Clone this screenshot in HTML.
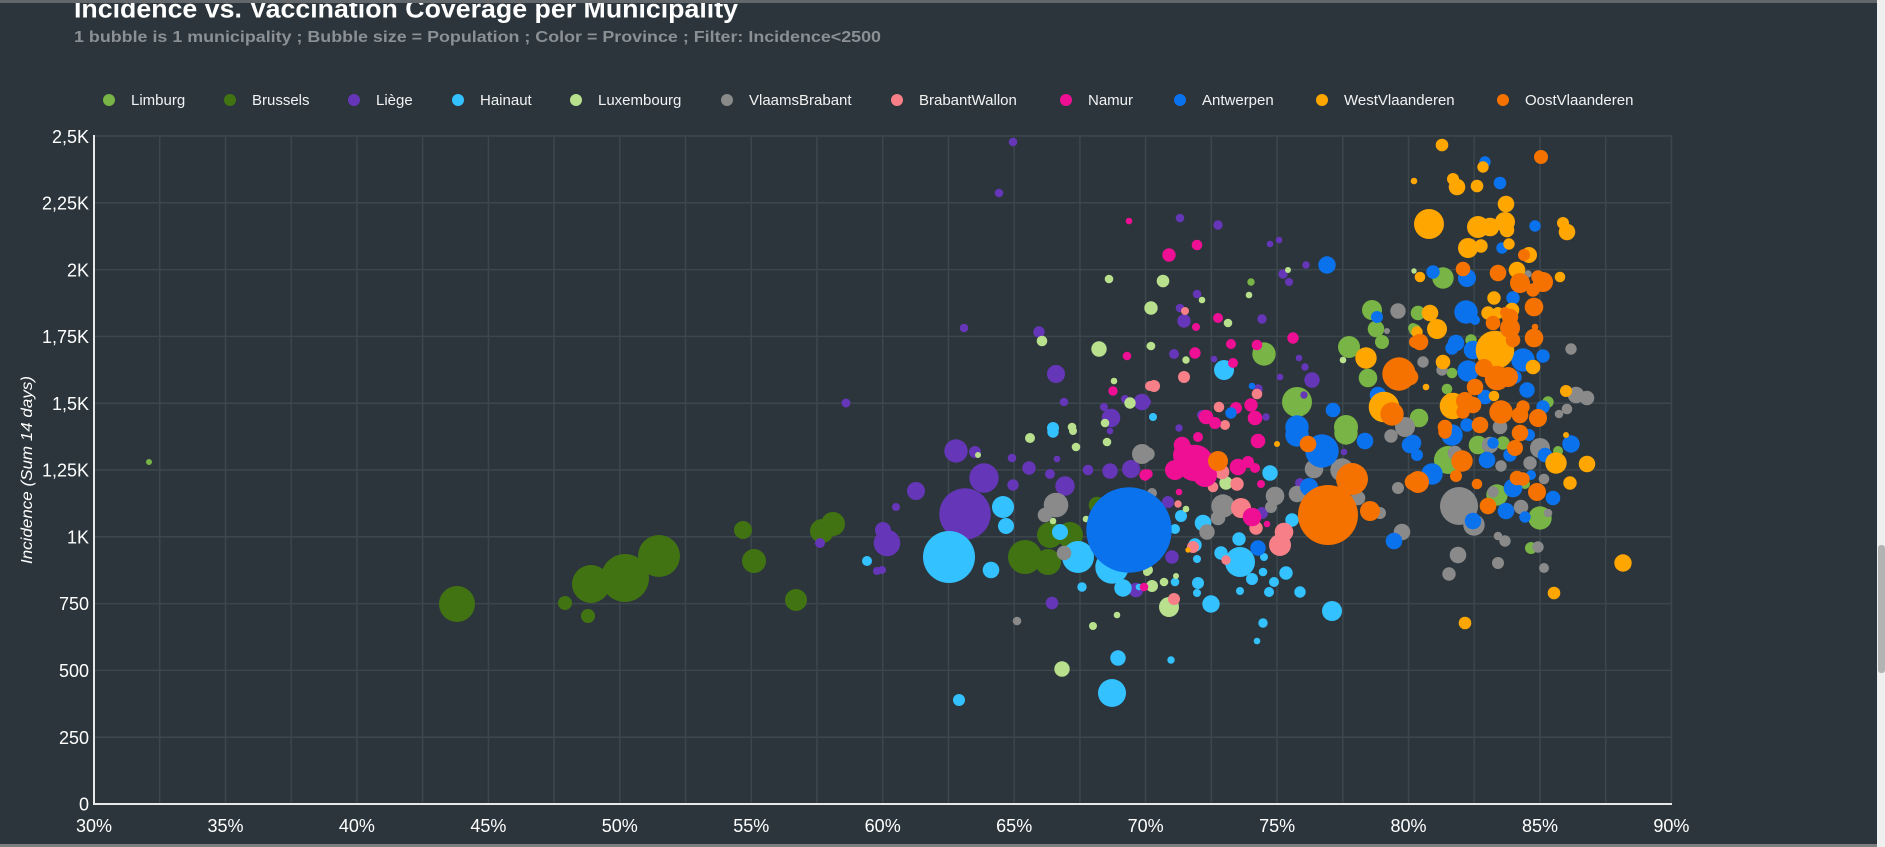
<!DOCTYPE html>
<html><head><meta charset="utf-8"><style>
html,body{margin:0;padding:0;background:#2b353b;width:1885px;height:847px;overflow:hidden}
svg{display:block;font-family:"Liberation Sans",Arial,sans-serif}
</style></head><body>
<svg width="1885" height="847" viewBox="0 0 1885 847" xmlns="http://www.w3.org/2000/svg">
<rect x="0" y="0" width="1885" height="847" fill="#2b353b"/>

<text x="74" y="17.5" font-size="26" font-weight="700" fill="#ffffff" textLength="664" lengthAdjust="spacingAndGlyphs">Incidence vs. Vaccination Coverage per Municipality</text>
<text x="74" y="42" font-size="16" font-weight="700" fill="#8b9095" textLength="807" lengthAdjust="spacingAndGlyphs">1 bubble is 1 municipality ; Bubble size = Population ;  Color = Province ;  Filter: Incidence&lt;2500</text>

<rect x="0" y="0" width="1877" height="3" fill="#62676b"/>
<rect x="0" y="844" width="1885" height="3" fill="#7a7e81"/>
<rect x="1877" y="0" width="8" height="847" fill="#efefef"/>
<rect x="1878" y="545" width="7" height="128" rx="3" fill="#b3b3b3"/>

<g font-size="15" fill="#f2f2f2">
<circle cx="109" cy="100" r="6" fill="#79b446"/><text x="131" y="105">Limburg</text>
<circle cx="230" cy="100" r="6" fill="#417312"/><text x="252" y="105">Brussels</text>
<circle cx="354" cy="100" r="6" fill="#6536b8"/><text x="376" y="105">Liège</text>
<circle cx="458" cy="100" r="6" fill="#33c2ff"/><text x="480" y="105">Hainaut</text>
<circle cx="576" cy="100" r="6" fill="#b9e08d"/><text x="598" y="105">Luxembourg</text>
<circle cx="727" cy="100" r="6" fill="#8a8a8a"/><text x="749" y="105">VlaamsBrabant</text>
<circle cx="897" cy="100" r="6" fill="#f78088"/><text x="919" y="105">BrabantWallon</text>
<circle cx="1066" cy="100" r="6" fill="#ee0f94"/><text x="1088" y="105">Namur</text>
<circle cx="1180" cy="100" r="6" fill="#0b72ee"/><text x="1202" y="105">Antwerpen</text>
<circle cx="1322" cy="100" r="6" fill="#ffa600"/><text x="1344" y="105">WestVlaanderen</text>
<circle cx="1503" cy="100" r="6" fill="#f57200"/><text x="1525" y="105">OostVlaanderen</text>
</g>

<!-- grid -->
<g stroke="#3c464d" stroke-width="1.5">
<line x1="94" y1="136" x2="1672" y2="136"/>
<line x1="94" y1="202.8" x2="1672" y2="202.8"/>
<line x1="94" y1="269.6" x2="1672" y2="269.6"/>
<line x1="94" y1="336.4" x2="1672" y2="336.4"/>
<line x1="94" y1="403.2" x2="1672" y2="403.2"/>
<line x1="94" y1="470" x2="1672" y2="470"/>
<line x1="94" y1="536.8" x2="1672" y2="536.8"/>
<line x1="94" y1="603.6" x2="1672" y2="603.6"/>
<line x1="94" y1="670.4" x2="1672" y2="670.4"/>
<line x1="94" y1="737.2" x2="1672" y2="737.2"/>
<line x1="159.7" y1="136" x2="159.7" y2="804"/>
<line x1="225.5" y1="136" x2="225.5" y2="804"/>
<line x1="291.2" y1="136" x2="291.2" y2="804"/>
<line x1="356.9" y1="136" x2="356.9" y2="804"/>
<line x1="422.6" y1="136" x2="422.6" y2="804"/>
<line x1="488.4" y1="136" x2="488.4" y2="804"/>
<line x1="554.1" y1="136" x2="554.1" y2="804"/>
<line x1="619.8" y1="136" x2="619.8" y2="804"/>
<line x1="685.5" y1="136" x2="685.5" y2="804"/>
<line x1="751.3" y1="136" x2="751.3" y2="804"/>
<line x1="817" y1="136" x2="817" y2="804"/>
<line x1="882.7" y1="136" x2="882.7" y2="804"/>
<line x1="948.4" y1="136" x2="948.4" y2="804"/>
<line x1="1014.2" y1="136" x2="1014.2" y2="804"/>
<line x1="1079.9" y1="136" x2="1079.9" y2="804"/>
<line x1="1145.6" y1="136" x2="1145.6" y2="804"/>
<line x1="1211.3" y1="136" x2="1211.3" y2="804"/>
<line x1="1277.1" y1="136" x2="1277.1" y2="804"/>
<line x1="1342.8" y1="136" x2="1342.8" y2="804"/>
<line x1="1408.5" y1="136" x2="1408.5" y2="804"/>
<line x1="1474.2" y1="136" x2="1474.2" y2="804"/>
<line x1="1540" y1="136" x2="1540" y2="804"/>
<line x1="1605.7" y1="136" x2="1605.7" y2="804"/>
<line x1="1671.4" y1="136" x2="1671.4" y2="804"/>
</g>

<!-- y labels -->
<g font-size="18" fill="#ffffff" text-anchor="end">
<text x="89" y="143">2,5K</text>
<text x="89" y="209.5">2,25K</text>
<text x="89" y="276.5">2K</text>
<text x="89" y="343">1,75K</text>
<text x="89" y="410">1,5K</text>
<text x="89" y="476.5">1,25K</text>
<text x="89" y="543.5">1K</text>
<text x="89" y="610">750</text>
<text x="89" y="677">500</text>
<text x="89" y="744">250</text>
<text x="89" y="810.5">0</text>
</g>
<g font-size="18" fill="#ffffff" text-anchor="middle">
<text x="94" y="832">30%</text>
<text x="225.5" y="832">35%</text>
<text x="356.9" y="832">40%</text>
<text x="488.4" y="832">45%</text>
<text x="619.8" y="832">50%</text>
<text x="751.3" y="832">55%</text>
<text x="882.7" y="832">60%</text>
<text x="1014.2" y="832">65%</text>
<text x="1145.6" y="832">70%</text>
<text x="1277.1" y="832">75%</text>
<text x="1408.5" y="832">80%</text>
<text x="1540" y="832">85%</text>
<text x="1671.4" y="832">90%</text>
</g>
<text transform="translate(32,470) rotate(-90)" font-size="16" font-style="italic" fill="#ffffff" text-anchor="middle" textLength="188" lengthAdjust="spacingAndGlyphs">Incidence (Sum 14 days)</text>

<!-- Limburg -->
<g fill="#79b446">
<circle cx="149" cy="462" r="3"/>
<circle cx="1251" cy="282" r="3.7"/><circle cx="1372" cy="310" r="10"/><circle cx="1376" cy="329" r="8.3"/><circle cx="1382" cy="342" r="7"/><circle cx="1415" cy="330" r="6"/><circle cx="1264" cy="354" r="11.7"/><circle cx="1349" cy="347" r="11"/><circle cx="1368" cy="378" r="9.3"/><circle cx="1297" cy="402" r="15"/><circle cx="1346" cy="427" r="12"/>
<circle cx="1346" cy="433" r="11.7"/>
<circle cx="1443" cy="278" r="10.7"/><circle cx="1418" cy="313" r="7.3"/><circle cx="1413" cy="328" r="5"/><circle cx="1471" cy="340" r="5.7"/><circle cx="1452" cy="373" r="5.3"/><circle cx="1447" cy="389" r="5.3"/><circle cx="1548" cy="402" r="5.7"/><circle cx="1419" cy="418" r="9.3"/>
<circle cx="1448" cy="460" r="14"/><circle cx="1478" cy="445" r="9.3"/><circle cx="1503" cy="443" r="6.7"/><circle cx="1558" cy="451" r="5"/><circle cx="1525" cy="484" r="5"/><circle cx="1497" cy="495" r="10.7"/><circle cx="1540" cy="518" r="11.7"/><circle cx="1531" cy="548" r="6"/>
</g>
<!-- Brussels -->
<g fill="#417312">
<circle cx="457" cy="604" r="18"/><circle cx="565" cy="603" r="7"/><circle cx="588" cy="616" r="7"/><circle cx="591" cy="584" r="19"/><circle cx="625" cy="578" r="24"/><circle cx="659" cy="556" r="21"/><circle cx="743" cy="530" r="9"/><circle cx="754" cy="561" r="12"/><circle cx="796" cy="600" r="11"/><circle cx="822" cy="531" r="12"/><circle cx="833" cy="524" r="12"/>
<circle cx="1025" cy="557" r="17"/><circle cx="1048" cy="562" r="13"/><circle cx="1050" cy="535" r="13"/><circle cx="1070" cy="535" r="13"/><circle cx="1097" cy="505" r="8.3"/>
</g>
<!-- Liege -->
<g fill="#6536b8">
<circle cx="846" cy="403" r="4.5"/><circle cx="820" cy="543" r="5"/><circle cx="877" cy="571" r="4"/>
<circle cx="1013" cy="142" r="4.3"/><circle cx="999" cy="193" r="4.3"/><circle cx="964" cy="328" r="4.3"/><circle cx="1039" cy="332" r="5.7"/><circle cx="1056" cy="374" r="9"/><circle cx="1064" cy="402" r="4.3"/><circle cx="1104" cy="407" r="4"/><circle cx="1125" cy="399" r="4"/><circle cx="1142" cy="402" r="8.3"/><circle cx="1111" cy="418" r="9.3"/>
<circle cx="1110" cy="431" r="3.3"/><circle cx="956" cy="451" r="11.7"/><circle cx="975" cy="452" r="6"/><circle cx="1012" cy="458" r="4.3"/><circle cx="1057" cy="459" r="3.3"/><circle cx="1029" cy="468" r="6.7"/><circle cx="1050" cy="474" r="5"/><circle cx="1088" cy="470" r="5.3"/><circle cx="1110" cy="471" r="7.7"/><circle cx="1131" cy="469" r="9"/><circle cx="984" cy="478" r="14.7"/><circle cx="1013" cy="485" r="5.7"/><circle cx="1065" cy="486" r="9.7"/><circle cx="916" cy="491" r="9"/><circle cx="896" cy="507" r="4"/><circle cx="965" cy="514" r="25.7"/><circle cx="887" cy="543" r="13.3"/><circle cx="883" cy="530" r="8"/><circle cx="882" cy="570" r="4"/><circle cx="1136" cy="590" r="7.3"/><circle cx="1052" cy="603" r="6.3"/>
<circle cx="1180" cy="218" r="4.3"/><circle cx="1218" cy="225" r="4.7"/><circle cx="1270" cy="244" r="3.3"/><circle cx="1279" cy="240" r="3.3"/><circle cx="1306" cy="265" r="3.7"/><circle cx="1283" cy="274" r="4.7"/><circle cx="1289" cy="282" r="4"/><circle cx="1197" cy="294" r="4.3"/><circle cx="1180" cy="308" r="4.3"/><circle cx="1184" cy="321" r="6.7"/><circle cx="1262" cy="319" r="4.7"/><circle cx="1174" cy="354" r="5"/><circle cx="1214" cy="359" r="3.3"/><circle cx="1299" cy="358" r="3.3"/><circle cx="1305" cy="367" r="3.7"/><circle cx="1280" cy="377" r="3.3"/><circle cx="1312" cy="380" r="7.7"/><circle cx="1258" cy="389" r="4.7"/><circle cx="1304" cy="395" r="3.7"/><circle cx="1147" cy="402" r="4"/><circle cx="1266" cy="417" r="3.7"/><circle cx="1202" cy="415" r="5"/><circle cx="1179" cy="428" r="3.7"/>
<circle cx="1344" cy="452" r="3.3"/><circle cx="1300" cy="483" r="5"/><circle cx="1168" cy="502" r="6"/><circle cx="1262" cy="513" r="6"/><circle cx="1172" cy="557" r="6.7"/>
</g>
<!-- Hainaut -->
<g fill="#33c2ff">
<circle cx="867" cy="561" r="5"/><circle cx="1053" cy="428" r="6"/>
<circle cx="1053" cy="432" r="5.7"/><circle cx="1003" cy="507" r="11"/><circle cx="1006" cy="526" r="8"/><circle cx="1060" cy="532" r="8"/><circle cx="949" cy="557" r="26"/><circle cx="1078" cy="557" r="16"/><circle cx="1112" cy="567" r="16.7"/><circle cx="991" cy="570" r="8.3"/><circle cx="1082" cy="587" r="4.7"/><circle cx="1123" cy="588" r="8.7"/><circle cx="1139" cy="587" r="3.3"/><circle cx="1118" cy="658" r="7.7"/><circle cx="1112" cy="693" r="14"/><circle cx="959" cy="700" r="6"/>
<circle cx="1153" cy="417" r="4"/><circle cx="1224" cy="370" r="10"/>
<circle cx="1270" cy="473" r="7.7"/><circle cx="1181" cy="516" r="6"/><circle cx="1203" cy="523" r="8.3"/><circle cx="1175" cy="529" r="5"/><circle cx="1292" cy="520" r="6.7"/><circle cx="1239" cy="539" r="6.7"/><circle cx="1195" cy="545" r="6.7"/><circle cx="1240" cy="562" r="15"/><circle cx="1221" cy="553" r="6.7"/><circle cx="1264" cy="557" r="4"/><circle cx="1197" cy="559" r="4"/><circle cx="1286" cy="573" r="6.7"/><circle cx="1263" cy="572" r="4.3"/><circle cx="1252" cy="579" r="6"/><circle cx="1198" cy="583" r="6"/><circle cx="1175" cy="582" r="4.3"/><circle cx="1274" cy="582" r="5"/><circle cx="1269" cy="592" r="5"/><circle cx="1300" cy="592" r="5.7"/><circle cx="1240" cy="591" r="4"/><circle cx="1197" cy="593" r="4"/><circle cx="1211" cy="604" r="8.7"/><circle cx="1332" cy="611" r="10"/><circle cx="1263" cy="623" r="4.7"/><circle cx="1257" cy="641" r="3.3"/><circle cx="1171" cy="660" r="3.7"/>
</g>
<!-- Luxembourg -->
<g fill="#b9e08d">
<circle cx="1109" cy="279" r="4.3"/><circle cx="1150" cy="309" r="5"/><circle cx="1042" cy="341" r="5.3"/><circle cx="1099" cy="349" r="7.7"/><circle cx="1150" cy="346" r="3.5"/><circle cx="1114" cy="381" r="3.3"/><circle cx="1130" cy="403" r="5.7"/><circle cx="1105" cy="423" r="4.3"/><circle cx="1072" cy="427" r="4.3"/>
<circle cx="1030" cy="438" r="5"/><circle cx="1073" cy="431" r="4"/><circle cx="1076" cy="447" r="4.3"/><circle cx="1107" cy="442" r="4.3"/><circle cx="978" cy="455" r="3"/><circle cx="1053" cy="521" r="3.3"/><circle cx="1086" cy="519" r="3.3"/><circle cx="1147" cy="572" r="4"/><circle cx="1093" cy="626" r="4"/><circle cx="1117" cy="615" r="3.3"/><circle cx="1062" cy="669" r="7.7"/>
<circle cx="1288" cy="270" r="3"/><circle cx="1163" cy="281" r="6.3"/><circle cx="1249" cy="295" r="3.3"/><circle cx="1202" cy="300" r="3.3"/><circle cx="1151" cy="308" r="6.7"/><circle cx="1228" cy="323" r="4.3"/><circle cx="1151" cy="346" r="4.3"/><circle cx="1186" cy="360" r="3.7"/><circle cx="1343" cy="360" r="3.3"/>
<circle cx="1226" cy="483" r="6.7"/><circle cx="1186" cy="509" r="3.3"/><circle cx="1148" cy="570" r="5"/><circle cx="1176" cy="576" r="3"/><circle cx="1164" cy="582" r="4.3"/><circle cx="1152" cy="586" r="6"/><circle cx="1169" cy="607" r="10"/>
<circle cx="1414" cy="271" r="2.7"/>
</g>
<!-- VlaamsBrabant -->
<g fill="#8a8a8a">
<circle cx="1142" cy="454" r="10"/><circle cx="1056" cy="505" r="12.3"/><circle cx="1045" cy="515" r="7.3"/><circle cx="1064" cy="553" r="7.3"/><circle cx="1017" cy="621" r="4.3"/>
<circle cx="1398" cy="311" r="7.7"/><circle cx="1387" cy="331" r="3"/><circle cx="1405" cy="427" r="10"/>
<circle cx="1148" cy="454" r="6.7"/><circle cx="1314" cy="469" r="9.3"/><circle cx="1391" cy="436" r="6.7"/><circle cx="1342" cy="470" r="11.7"/><circle cx="1297" cy="494" r="8.3"/><circle cx="1358" cy="498" r="7.3"/><circle cx="1380" cy="513" r="6"/><circle cx="1398" cy="488" r="6"/><circle cx="1402" cy="532" r="8.3"/><circle cx="1152" cy="493" r="5"/><circle cx="1223" cy="506" r="11.7"/><circle cx="1218" cy="518" r="7.3"/><circle cx="1275" cy="496" r="9.3"/><circle cx="1271" cy="507" r="6"/><circle cx="1207" cy="532" r="7.7"/>
<circle cx="1528" cy="274" r="3.7"/><circle cx="1571" cy="349" r="5.7"/><circle cx="1423" cy="362" r="5.7"/><circle cx="1442" cy="370" r="5.7"/><circle cx="1576" cy="395" r="8.3"/><circle cx="1587" cy="398" r="7.3"/><circle cx="1567" cy="409" r="5.3"/><circle cx="1559" cy="414" r="4.3"/><circle cx="1500" cy="427" r="7.3"/>
<circle cx="1455" cy="453" r="7.3"/><circle cx="1490" cy="445" r="8.3"/><circle cx="1501" cy="466" r="5.7"/><circle cx="1540" cy="448" r="10"/><circle cx="1530" cy="463" r="6.7"/><circle cx="1544" cy="479" r="5.3"/><circle cx="1493" cy="492" r="5.7"/><circle cx="1459" cy="506" r="19"/><circle cx="1474" cy="525" r="10.7"/><circle cx="1521" cy="507" r="7.3"/><circle cx="1548" cy="513" r="4.3"/><circle cx="1498" cy="536" r="4.3"/><circle cx="1505" cy="541" r="5.7"/><circle cx="1538" cy="547" r="5.7"/><circle cx="1458" cy="555" r="8.3"/><circle cx="1449" cy="574" r="6.7"/><circle cx="1498" cy="563" r="6"/><circle cx="1544" cy="568" r="5"/>
</g>
<!-- BrabantWallon -->
<g fill="#f78088">
<circle cx="1150" cy="386" r="5"/>
<circle cx="1185" cy="311" r="4"/><circle cx="1184" cy="377" r="6"/><circle cx="1154" cy="386" r="6"/><circle cx="1257" cy="394" r="5.3"/><circle cx="1219" cy="407" r="5.3"/><circle cx="1225" cy="425" r="5"/>
<circle cx="1222" cy="472" r="7.3"/><circle cx="1237" cy="484" r="6.7"/><circle cx="1213" cy="487" r="5.3"/><circle cx="1178" cy="504" r="3.7"/><circle cx="1241" cy="508" r="10"/><circle cx="1256" cy="528" r="6.7"/><circle cx="1284" cy="532" r="9.3"/><circle cx="1280" cy="545" r="11"/><circle cx="1193" cy="547" r="6"/><circle cx="1226" cy="560" r="4.7"/><circle cx="1174" cy="599" r="6"/>
</g>
<!-- Namur -->
<g fill="#ee0f94">
<circle cx="1129" cy="221" r="3.3"/><circle cx="1127" cy="356" r="4.3"/><circle cx="1113" cy="391" r="4.7"/>
<circle cx="1145" cy="475" r="5.7"/><circle cx="1144" cy="587" r="4.3"/>
<circle cx="1197" cy="245" r="5.3"/><circle cx="1169" cy="255" r="6.7"/><circle cx="1218" cy="318" r="5"/><circle cx="1196" cy="327" r="4"/><circle cx="1293" cy="338" r="5.7"/><circle cx="1231" cy="344" r="5"/><circle cx="1257" cy="345" r="5.3"/><circle cx="1195" cy="353" r="5.7"/><circle cx="1233" cy="363" r="5"/><circle cx="1206" cy="417" r="7.3"/><circle cx="1215" cy="423" r="6"/><circle cx="1236" cy="408" r="6"/><circle cx="1251" cy="405" r="6.7"/><circle cx="1255" cy="418" r="7.3"/>
<circle cx="1195" cy="463" r="18.3"/><circle cx="1182" cy="445" r="8.3"/><circle cx="1198" cy="437" r="5"/><circle cx="1185" cy="455" r="12"/><circle cx="1205" cy="475" r="12"/><circle cx="1175" cy="470" r="10"/><circle cx="1238" cy="467" r="8.3"/><circle cx="1248" cy="462" r="6"/><circle cx="1255" cy="468" r="5"/><circle cx="1258" cy="441" r="7.3"/><circle cx="1148" cy="474" r="4.7"/><circle cx="1261" cy="484" r="4"/><circle cx="1179" cy="492" r="3.3"/><circle cx="1252" cy="517" r="9.3"/><circle cx="1267" cy="524" r="3.3"/>
</g>
<!-- Antwerpen -->
<g fill="#0b72ee">
<circle cx="1129" cy="530" r="42.7"/>
<circle cx="1327" cy="265" r="8.7"/><circle cx="1377" cy="317" r="6"/><circle cx="1252" cy="386" r="3.3"/><circle cx="1333" cy="410" r="7.3"/><circle cx="1378" cy="395" r="8.3"/><circle cx="1297" cy="427" r="11.7"/><circle cx="1231" cy="413" r="5.7"/>
<circle cx="1297" cy="435" r="11.7"/><circle cx="1322" cy="451" r="16.7"/><circle cx="1365" cy="441" r="8.3"/><circle cx="1410" cy="445" r="8.3"/><circle cx="1309" cy="487" r="9"/><circle cx="1258" cy="548" r="7.7"/><circle cx="1394" cy="541" r="8.3"/>
<circle cx="1485" cy="162" r="5.7"/><circle cx="1500" cy="183" r="6.3"/><circle cx="1535" cy="226" r="5.7"/><circle cx="1502" cy="248" r="5.7"/><circle cx="1433" cy="272" r="6.7"/><circle cx="1467" cy="278" r="9"/><circle cx="1513" cy="298" r="6.7"/><circle cx="1466" cy="312" r="11.7"/><circle cx="1475" cy="320" r="5"/><circle cx="1456" cy="343" r="8.3"/><circle cx="1452" cy="348" r="6.7"/><circle cx="1473" cy="350" r="9.3"/><circle cx="1543" cy="356" r="6.7"/><circle cx="1523" cy="360" r="11.7"/><circle cx="1468" cy="371" r="10.7"/><circle cx="1515" cy="377" r="6.7"/><circle cx="1527" cy="390" r="7.7"/><circle cx="1485" cy="397" r="7.3"/><circle cx="1543" cy="407" r="6.7"/><circle cx="1467" cy="425" r="6.7"/>
<circle cx="1413" cy="443" r="8.3"/><circle cx="1417" cy="455" r="6"/><circle cx="1432" cy="474" r="10.7"/><circle cx="1452" cy="435" r="10.7"/><circle cx="1493" cy="443" r="5.7"/><circle cx="1487" cy="460" r="8.3"/><circle cx="1510" cy="455" r="6.7"/><circle cx="1529" cy="435" r="6"/><circle cx="1545" cy="455" r="7.3"/><circle cx="1571" cy="444" r="8.7"/><circle cx="1531" cy="475" r="5"/><circle cx="1513" cy="488" r="9.3"/><circle cx="1553" cy="498" r="7.3"/><circle cx="1473" cy="521" r="8.3"/><circle cx="1506" cy="511" r="8.3"/><circle cx="1525" cy="517" r="5.7"/>
</g>
<!-- WestVlaanderen -->
<g fill="#ffa600">
<circle cx="1366" cy="358" r="10.7"/><circle cx="1384" cy="407" r="15.3"/>
<circle cx="1277" cy="444" r="3"/><circle cx="1188" cy="550" r="2.7"/>
<circle cx="1442" cy="145" r="6.3"/><circle cx="1483" cy="167" r="5.7"/><circle cx="1414" cy="181" r="3.3"/><circle cx="1453" cy="179" r="6"/><circle cx="1457" cy="187" r="8.3"/><circle cx="1477" cy="186" r="6.3"/><circle cx="1506" cy="204" r="8.3"/><circle cx="1429" cy="224" r="15"/><circle cx="1478" cy="227" r="11"/><circle cx="1490" cy="227" r="9.3"/><circle cx="1505" cy="222" r="10"/><circle cx="1507" cy="230" r="7.3"/><circle cx="1563" cy="223" r="6"/><circle cx="1567" cy="232" r="8.3"/><circle cx="1468" cy="248" r="10"/><circle cx="1481" cy="246" r="6.7"/><circle cx="1509" cy="244" r="5.7"/><circle cx="1529" cy="255" r="8"/><circle cx="1420" cy="277" r="5.3"/><circle cx="1517" cy="270" r="8.3"/><circle cx="1560" cy="277" r="5.3"/><circle cx="1494" cy="298" r="6.7"/><circle cx="1488" cy="313" r="6.7"/><circle cx="1498" cy="313" r="6"/><circle cx="1512" cy="310" r="7.3"/><circle cx="1430" cy="313" r="8.3"/><circle cx="1437" cy="329" r="10"/><circle cx="1417" cy="332" r="5.7"/><circle cx="1495" cy="350" r="19.3"/><circle cx="1533" cy="367" r="7.3"/><circle cx="1443" cy="362" r="7.3"/><circle cx="1426" cy="387" r="3.3"/><circle cx="1494" cy="396" r="5.3"/><circle cx="1566" cy="391" r="6"/><circle cx="1453" cy="406" r="13.3"/>
<circle cx="1556" cy="463" r="10.7"/><circle cx="1566" cy="435" r="3"/><circle cx="1587" cy="464" r="8.3"/><circle cx="1570" cy="483" r="6.7"/><circle cx="1623" cy="563" r="8.7"/><circle cx="1554" cy="593" r="6.3"/><circle cx="1465" cy="623" r="6.3"/>
</g>
<!-- OostVlaanderen -->
<g fill="#f57200">
<circle cx="1328" cy="515" r="30"/>
<circle cx="1415" cy="342" r="6"/><circle cx="1399" cy="374" r="16.7"/><circle cx="1392" cy="414" r="11.7"/>
<circle cx="1308" cy="444" r="8.3"/><circle cx="1352" cy="479" r="16"/><circle cx="1370" cy="511" r="10"/><circle cx="1413" cy="482" r="8.3"/><circle cx="1218" cy="461" r="10"/>
<circle cx="1541" cy="157" r="7"/><circle cx="1524" cy="255" r="6"/><circle cx="1498" cy="273" r="8.3"/><circle cx="1463" cy="269" r="7.3"/><circle cx="1520" cy="283" r="10"/><circle cx="1543" cy="282" r="10"/><circle cx="1533" cy="290" r="6.7"/><circle cx="1538" cy="277" r="6.7"/><circle cx="1534" cy="307" r="9.3"/><circle cx="1510" cy="317" r="8.3"/><circle cx="1505" cy="312" r="5"/><circle cx="1493" cy="323" r="7.3"/><circle cx="1510" cy="328" r="10"/><circle cx="1513" cy="340" r="7.3"/><circle cx="1534" cy="338" r="9.3"/><circle cx="1535" cy="327" r="3.3"/><circle cx="1420" cy="342" r="8.3"/><circle cx="1410" cy="377" r="8.3"/><circle cx="1484" cy="368" r="9"/><circle cx="1497" cy="378" r="12.3"/><circle cx="1508" cy="377" r="10"/><circle cx="1475" cy="387" r="8.3"/><circle cx="1465" cy="401" r="9"/><circle cx="1473" cy="405" r="8.3"/><circle cx="1463" cy="412" r="6.7"/><circle cx="1501" cy="412" r="11.7"/><circle cx="1523" cy="407" r="6.7"/><circle cx="1520" cy="415" r="8.3"/><circle cx="1538" cy="418" r="9"/><circle cx="1445" cy="427" r="7.3"/><circle cx="1480" cy="425" r="8.3"/>
<circle cx="1418" cy="482" r="11"/><circle cx="1462" cy="461" r="10.7"/><circle cx="1456" cy="476" r="6"/><circle cx="1445" cy="432" r="6.7"/><circle cx="1515" cy="448" r="8"/><circle cx="1520" cy="433" r="8.3"/><circle cx="1477" cy="484" r="5.3"/><circle cx="1517" cy="478" r="7.3"/><circle cx="1523" cy="479" r="6.7"/><circle cx="1537" cy="492" r="9"/><circle cx="1488" cy="506" r="8.3"/>
</g>

<!-- axes -->
<line x1="94" y1="135" x2="94" y2="805" stroke="#e8e8e8" stroke-width="2"/>
<line x1="93" y1="804" x2="1672" y2="804" stroke="#e8e8e8" stroke-width="2"/>
</svg>
</body></html>
